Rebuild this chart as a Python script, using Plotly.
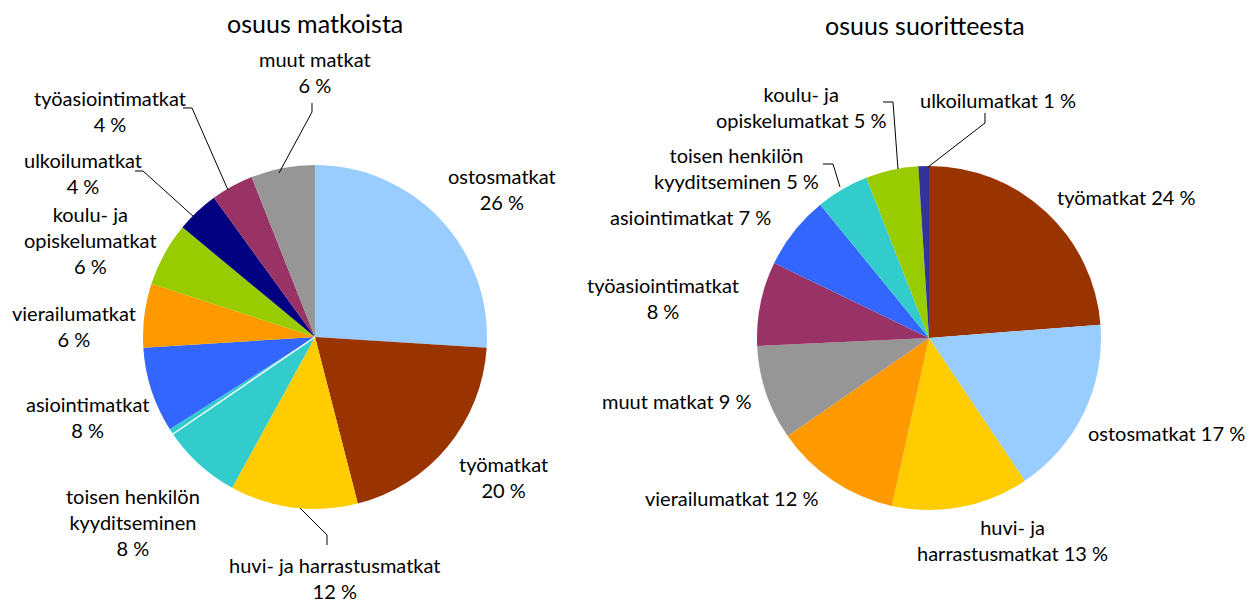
import plotly.graph_objects as go

# ---- data ----
left_labels = ["ostosmatkat", "työmatkat", "huvi- ja harrastusmatkat", "toisen henkilön kyyditseminen",
               "asiointimatkat", "vierailumatkat", "koulu- ja opiskelumatkat", "ulkoilumatkat",
               "työasiointimatkat", "muut matkat"]
left_values = [26, 20, 12, 8, 8, 6, 6, 4, 4, 6]

right_labels = ["työmatkat", "ostosmatkat", "huvi- ja harrastusmatkat", "vierailumatkat", "muut matkat",
                "työasiointimatkat", "asiointimatkat", "toisen henkilön kyyditseminen",
                "koulu- ja opiskelumatkat", "ulkoilumatkat"]
right_values = [24, 17, 13, 12, 9, 8, 7, 5, 5, 1]

colors = {
    "ostosmatkat": "#99CCFF", "työmatkat": "#993300", "huvi- ja harrastusmatkat": "#FFCC00",
    "toisen henkilön kyyditseminen": "#33CCCC", "asiointimatkat": "#3366FF", "vierailumatkat": "#FF9900",
    "koulu- ja opiskelumatkat": "#99CC00", "ulkoilumatkat": "#000080", "työasiointimatkat": "#993366",
    "muut matkat": "#969696",
}
right_colors = dict(colors, ulkoilumatkat="#333399")

titles = ["osuus matkoista", "osuus suoritteesta"]

# page body has an 8px margin; work in screen pixels and convert
OFF = 8
W, H = 1260 - OFF, 605 - OFF
FONT = "Lato, 'Open Sans', sans-serif"

def px(x):
    return (x - OFF) / W

def py(y):
    return 1 - (y - OFF) / H

def dom(cx, cy, r):
    return dict(x=[px(cx - r), px(cx + r)], y=[py(cy + r), py(cy - r)])

fig = go.Figure()
fig.add_trace(go.Pie(labels=left_labels, values=left_values, sort=False, direction="clockwise",
                     rotation=0, textinfo="none", hoverinfo="label+percent",
                     marker=dict(colors=[colors[l] for l in left_labels], line=dict(width=0)),
                     domain=dom(315, 337, 172), showlegend=False))
fig.add_trace(go.Pie(labels=right_labels, values=right_values, sort=False, direction="clockwise",
                     rotation=0, textinfo="none", hoverinfo="label+percent",
                     marker=dict(colors=[right_colors[l] for l in right_labels], line=dict(width=0)),
                     domain=dom(929, 338, 172), showlegend=False))

ann = []
def label(text, x, y, size=20):
    ann.append(dict(text=text, x=px(x), y=py(y), xref="paper", yref="paper", showarrow=False,
                    xanchor="center", yanchor="middle", align="center",
                    font=dict(family=FONT, size=size, color="black")))

# titles
for t, x, y in [(titles[0], 315, 23), (titles[1], 925, 25)]:
    ann.append(dict(text=t, x=px(x), y=py(y), xref="paper", yref="paper", showarrow=False,
                    xanchor="center", yanchor="middle", font=dict(family=FONT, size=25, color="black")))

# left labels
label("muut matkat<br>6 %", 315, 72)
label("työasiointimatkat<br>4 %", 110, 111)
label("ulkoilumatkat<br>4 %", 83, 173)
label("koulu- ja<br>opiskelumatkat<br>6 %", 90, 240)
label("vierailumatkat<br>6 %", 74, 326)
label("asiointimatkat<br>8 %", 87, 417)
label("toisen henkilön<br>kyyditseminen<br>8 %", 133, 522)
label("huvi- ja harrastusmatkat<br>12 %", 335, 578)
label("työmatkat<br>20 %", 503, 477)
label("ostosmatkat<br>26 %", 502, 189)

# right labels
label("ulkoilumatkat 1 %", 998, 100)
label("koulu- ja<br>opiskelumatkat 5 %", 801, 107)
label("toisen henkilön<br>kyyditseminen 5 %", 736, 168)
label("asiointimatkat 7 %", 690, 217)
label("työasiointimatkat<br>8 %", 663, 298)
label("muut matkat 9 %", 676, 401)
label("vierailumatkat 12 %", 731, 498)
label("huvi- ja<br>harrastusmatkat 13 %", 1012, 540)
label("ostosmatkat 17 %", 1166, 433)
label("työmatkat 24 %", 1126, 197)

# leader lines
leaders = [
    [(312, 103), (312, 112), (279, 173)],
    [(183, 108), (192, 108), (228, 190)],
    [(135, 171), (143, 171), (194, 217)],
    [(300, 508), (327, 535), (327, 545)],
    [(883, 102), (893, 102), (898, 169)],
    [(985, 113), (985, 123), (928, 167)],
    [(823, 164), (833, 164), (840, 187)],
]
shapes = []
for pts in leaders:
    path = "M " + " L ".join(f"{px(x):.5f},{py(y):.5f}" for x, y in pts)
    shapes.append(dict(type="path", path=path, xref="paper", yref="paper",
                       line=dict(color="black", width=1)))
# thin white border between asiointimatkat and toisen henkilön kyyditseminen
shapes.append(dict(type="line", xref="paper", yref="paper", x0=px(315), y0=py(337),
                   x1=px(173), y1=py(434), line=dict(color="white", width=1.5)))

fig.update_layout(width=W, height=H, margin=dict(l=0, r=0, t=0, b=0),
                  paper_bgcolor="white", plot_bgcolor="white",
                  annotations=ann, shapes=shapes, font=dict(family=FONT))
fig.write_html("out.html")
